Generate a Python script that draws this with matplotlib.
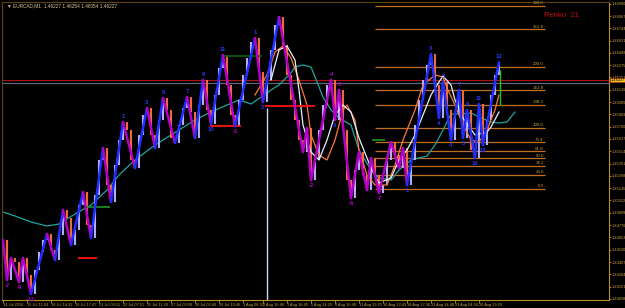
import matplotlib
matplotlib.use("Agg")
import matplotlib.pyplot as plt
import matplotlib.transforms as mtransforms
import numpy as np

plt.rcParams["font.family"] = ["Liberation Sans", "DejaVu Sans"]

BG = "black"
GOLD = "#b8902c"
TXT = "#c8a040"
UP_BAR = "#b4aef0"
DN_BAR = "#f06a3c"
ZZ_UP = "#1f2dff"
ZZ_DN = "#b400c8"
TEAL = "#1aa6a0"
WHITE_MA = "#e8f0ff"
ORANGE_MA = "#ff7a3a"
FIB = "#c07020"

# renko closes, one per bar
closes = [1.44627, 1.44227, 1.44447, 1.44407, 1.44207, 1.44447, 1.44277, 1.44087, 1.44327, 1.44507,
          1.44627, 1.44687, 1.44527, 1.44427, 1.44677, 1.44927, 1.44847, 1.44577, 1.44727, 1.44977,
          1.45107, 1.44777, 1.44647, 1.45077, 1.45427, 1.45547, 1.45177, 1.45007, 1.45377, 1.45627,
          1.45807, 1.45727, 1.45427, 1.45347, 1.45677, 1.45877, 1.45947, 1.45677, 1.45547, 1.45827,
          1.46047, 1.45927, 1.45647, 1.45597, 1.45777, 1.45947, 1.46057, 1.45907, 1.45647, 1.45977,
          1.46227, 1.45927, 1.45787, 1.46077, 1.46347, 1.46477, 1.46177, 1.45877, 1.45767, 1.46027,
          1.46277, 1.46447, 1.46607, 1.46647, 1.46307, 1.46007, 1.46227, 1.46527, 1.46777, 1.46857,
          1.46577, 1.46277, 1.46027, 1.45827, 1.45627, 1.45507, 1.45747, 1.45227, 1.45427, 1.45727,
          1.45977, 1.46177, 1.46227, 1.45827, 1.46127, 1.45727, 1.45227, 1.45047, 1.45327, 1.45507,
          1.45277, 1.45127, 1.45447, 1.45277, 1.45097, 1.45177, 1.45427, 1.45607, 1.45477, 1.45347,
          1.45547, 1.45177, 1.45427, 1.45777, 1.46027, 1.46227, 1.46377, 1.46487, 1.46177, 1.45847,
          1.46207, 1.45927, 1.45627, 1.45877, 1.46127, 1.45647, 1.45927, 1.45527, 1.45447, 1.45987,
          1.45577, 1.45827, 1.46077, 1.46277, 1.46407]

# zigzag pivots (bar indexes into closes)
zz_idx = [0, 1, 2, 4, 5, 7, 11, 13, 15, 17, 20, 22, 25, 27, 30, 33, 36, 38, 40, 43, 46, 48, 50,
          52, 55, 58, 63, 65, 69, 75, 76, 77, 82, 83, 84, 87, 89, 91, 92, 94, 97, 99, 100, 101,
          107, 109, 110, 112, 114, 115, 116, 118, 119, 120, 124]
zz_text = {1: "-7", 4: "-9", 7: "-11", 30: "1", 36: "3", 40: "5", 46: "7", 50: "9", 52: "10",
           55: "11", 58: "-1", 63: "1", 65: "2", 77: "-2", 82: "-4", 83: "3", 84: "-5", 87: "-6",
           94: "-7", 101: "1", 107: "3", 109: "4", 110: "5", 112: "4", 114: "7", 115: "5",
           116: "9", 118: "10", 119: "11", 120: "12", 124: "12"}

# moving averages (bar, price)
teal_x = [0, 3, 7, 11, 14, 18, 22, 26, 29, 33, 37, 40, 44, 48, 52, 56, 59, 62, 66, 67, 69, 72, 73,
          75, 77, 78, 80, 82, 84, 87, 89, 92, 94, 97, 99, 102, 104, 106, 108, 110, 112, 114, 117,
          119, 122, 124, 126, 128]
teal_y = [1.44907, 1.44867, 1.44807, 1.44767, 1.44787, 1.44887, 1.44977, 1.45127, 1.45277, 1.45427,
          1.45547, 1.45627, 1.45727, 1.45827, 1.45907, 1.45977, 1.46027, 1.45987, 1.46097, 1.46127,
          1.46177, 1.46297, 1.46357, 1.46377, 1.46357, 1.46257, 1.46057, 1.45927, 1.45847, 1.45777,
          1.45527, 1.45327, 1.45247, 1.45227, 1.45327, 1.45427, 1.45447, 1.45467, 1.45577, 1.45727,
          1.45887, 1.45887, 1.45897, 1.45857, 1.45807, 1.45797, 1.45807, 1.45907]
white_x = [67, 69, 71, 73, 74, 75, 77, 79, 81, 83, 85, 87, 89, 92, 94, 97, 99, 101, 103, 105, 107,
           109, 110, 112, 113, 115, 118, 121, 122, 124]
white_y = [1.46227, 1.46527, 1.46567, 1.46427, 1.46127, 1.45777, 1.45507, 1.45427, 1.45627, 1.45877,
           1.45977, 1.45907, 1.45647, 1.45347, 1.45197, 1.45247, 1.45427, 1.45527, 1.45677, 1.45877,
           1.46077, 1.46207, 1.46267, 1.46177, 1.46027, 1.45847, 1.45677, 1.45707, 1.45757, 1.45907]
orange_x = [63, 66, 68, 70, 72, 74, 76, 77, 79, 81, 83, 85, 86, 88, 89, 91, 93, 96, 98, 100, 103,
            105, 108, 110, 111, 113, 115, 117, 119, 121, 123, 124]
orange_y = [1.46077, 1.46277, 1.46507, 1.46567, 1.46447, 1.46227, 1.45977, 1.45677, 1.45477, 1.45427,
            1.45627, 1.45927, 1.45977, 1.45827, 1.45527, 1.45277, 1.45177, 1.45177, 1.45377, 1.45627,
            1.45927, 1.46177, 1.46277, 1.46257, 1.46147, 1.45977, 1.45777, 1.45627, 1.45607, 1.45727,
            1.45927, 1.46077]

# support / resistance segments
seg_x0 = [51.75, 65.5, 18.75, 54.75, 20.5, 92.25]
seg_x1 = [59.5, 78.0, 23.5, 64.75, 26.75, 95.5]
seg_p = [1.45767, 1.45967, 1.44447, 1.46467, 1.44957, 1.45627]
seg_c = ["#ff1010", "#ff1010", "#ff1010", "#0c5a10", "#1a8a20", "#1a8a20"]

# fibonacci
fib_levels = [0.0, 23.6, 38.2, 50.0, 61.8, 76.4, 100.0, 138.2, 161.8, 200.0, 261.8, 300.0]
fib_low, fib_high = 1.45137, 1.45747
fib_x0, fib_x1 = 93.0, 135.5

bid, ask = 1.46227, 1.46197
vline_bar, vline_top = 66, 1.45947

ytick_vals = [1.46990, 1.46867, 1.46744, 1.46621, 1.46498, 1.46375, 1.46252, 1.46129, 1.46006,
              1.45883, 1.45760, 1.45637, 1.45514, 1.45391, 1.45268, 1.45145, 1.45022, 1.44899,
              1.44776, 1.44653, 1.44530, 1.44407, 1.44284, 1.44161, 1.44038]
xtick_bars = [0, 6, 12, 18, 24, 30, 36, 42, 48, 54, 60, 65, 71, 77, 83, 89, 95, 101, 107, 113, 119]
xtick_labels = ["14 Jul 2016", "15 Jul 11:04", "18 Jul 14:32", "19 Jul 17:47", "21 Jul 03:11",
                "22 Jul 07:51", "25 Jul 11:20", "27 Jul 03:00", "28 Jul 02:46", "29 Jul 10:46",
                "1 Aug 08:35", "2 Aug 16:46", "3 Aug 18:49", "5 Aug 14:29", "8 Aug 16:49",
                "11 Aug 19:25", "16 Aug 12:43", "18 Aug 17:36", "22 Aug 14:48", "23 Aug 04:04",
                "26 Aug 19:29"]

fig = plt.figure(figsize=(6.25, 3.08), dpi=100, facecolor=BG)
ax = fig.add_axes([2 / 625, 8 / 308, 607 / 625, 298 / 308])
ax.set_facecolor(BG)
ax.set_xlim(-0.25, 151.5)
ax.set_ylim(1.44027, 1.47007)

# price lines
ax.axhline(bid, color="#b01010", lw=0.8, zorder=1)
ax.axhline(ask, color="#5a7080", lw=0.8, zorder=1)
ax.vlines(vline_bar, 1.44027, vline_top, color="#c8dcf4", lw=1.0, zorder=1)

# fib levels
for lv in fib_levels:
    p = fib_low + (fib_high - fib_low) * lv / 100
    ax.hlines(p, fib_x0, fib_x1, color=FIB, lw=0.9, zorder=1)
    ax.text(fib_x1 - 0.3, p + 0.00006, f"{lv:.1f}", color=TXT, fontsize=3.2,
            ha="right", va="bottom", zorder=5)

ax.plot(teal_x, teal_y, color=TEAL, lw=0.9, zorder=2)

# renko bars
for i in range(1, len(closes)):
    o, c = closes[i - 1], closes[i]
    ax.vlines(i, min(o, c), max(o, c), color=UP_BAR if c > o else DN_BAR, lw=1.5, zorder=3)

ax.plot(orange_x, orange_y, color=ORANGE_MA, lw=0.9, zorder=4)
ax.plot(white_x, white_y, color=WHITE_MA, lw=0.9, zorder=4)

for x0, x1, p, c in zip(seg_x0, seg_x1, seg_p, seg_c):
    ax.hlines(p, x0, x1, color=c, lw=1.3, zorder=5)

# zigzag
for a, b in zip(zz_idx[:-1], zz_idx[1:]):
    up = closes[b] > closes[a]
    if b <= 7 or (a >= 69 and b <= 101):
        col = ZZ_DN
    elif a >= 101:
        col = ZZ_UP
    else:
        col = ZZ_UP if up else ZZ_DN
    ax.plot([a, b], [closes[a], closes[b]], color=col, lw=1.8, zorder=6, solid_capstyle="round")

ax.vlines(124.3, 1.45977, 1.46327, color="#20c020", lw=1.0, zorder=6)

for k, idx in enumerate(zz_idx):
    if idx not in zz_text:
        continue
    t = zz_text[idx]
    prev_p = closes[zz_idx[k - 1]] if k > 0 else closes[idx]
    is_high = closes[idx] >= prev_p
    col = ZZ_DN if t.startswith("-") else "#2a36ff"
    ax.annotate(t, (idx, closes[idx]), xytext=(0, 2 if is_high else -2), textcoords="offset points",
                ha="center", va="bottom" if is_high else "top", fontsize=4.3, color=col,
                fontweight="bold", zorder=7)

ax.text(0.008, 0.995, "▼ EURCAD,M1  1.46227 1.46254 1.46054 1.46227", transform=ax.transAxes,
        fontsize=3.4, color="#d8c890", ha="left", va="top")
ax.text(0.893, 0.965, "Renko  21", transform=ax.transAxes, fontsize=5.5, color="#c81010",
        ha="left", va="top")

# axes styling
for side in ["left", "top"]:
    ax.spines[side].set_color("#5a4412")
for side in ["right", "bottom"]:
    ax.spines[side].set_color(GOLD)
ax.yaxis.tick_right()
ax.set_yticks(ytick_vals)
ax.set_yticklabels([f"{v:.5f}" for v in ytick_vals])
ax.tick_params(axis="y", colors=GOLD, labelcolor=TXT, labelsize=2.8, length=1.5, width=0.6, pad=0.6)
ax.set_xticks(xtick_bars)
ax.set_xticklabels(xtick_labels)
ax.tick_params(axis="x", colors=GOLD, labelcolor=TXT, labelsize=2.8, length=2, width=0.6, pad=0.3)
for lab in ax.get_xticklabels():
    lab.set_ha("left")

trans = mtransforms.blended_transform_factory(ax.transAxes, ax.transData)
ax.text(1.003, bid, f"{bid:.5f}", transform=trans, fontsize=2.8, color="black", ha="left",
        va="center", bbox=dict(boxstyle="square,pad=0.12", fc="#f0c020", ec="#d02020", lw=0.4))

fig.savefig("out.png", dpi=100, facecolor=BG)
